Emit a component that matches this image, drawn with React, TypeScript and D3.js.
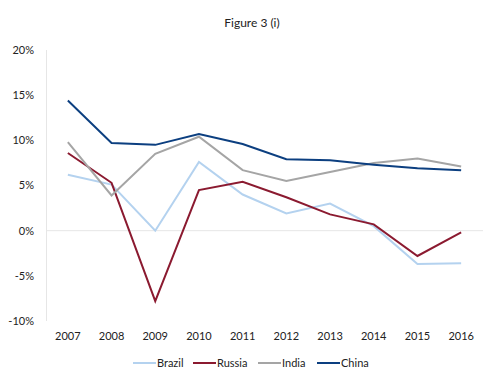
import { useEffect, useRef } from 'react';
import * as d3 from 'd3';

const years = ['2007', '2008', '2009', '2010', '2011', '2012', '2013', '2014', '2015', '2016'];
const brazil = [6.2, 5.1, 0.0, 7.6, 4.0, 1.9, 3.0, 0.5, -3.7, -3.6];
const russia = [8.6, 5.3, -7.8, 4.5, 5.4, 3.7, 1.8, 0.7, -2.8, -0.2];
const india = [9.8, 3.9, 8.5, 10.4, 6.7, 5.5, 6.5, 7.5, 8.0, 7.1];
const china = [14.4, 9.7, 9.5, 10.7, 9.6, 7.9, 7.8, 7.3, 6.9, 6.7];
const yTicks = [-10, -5, 0, 5, 10, 15, 20];

const series = [
  { name: 'Brazil', values: brazil, color: '#b4d2ef' },
  { name: 'Russia', values: russia, color: '#8b1a30' },
  { name: 'India', values: india, color: '#a5a5a5' },
  { name: 'China', values: china, color: '#0c3f80' },
];

export default function App() {
  const ref = useRef<SVGSVGElement>(null);

  useEffect(() => {
    const width = 497;
    const height = 392;
    const margin = { top: 50, right: 14, bottom: 71, left: 46 };
    const font = 'Lato, "Open Sans", sans-serif';

    const svg = d3.select(ref.current);
    svg.selectAll('*').remove();

    const x = d3
      .scaleBand()
      .domain(years)
      .range([margin.left, width - margin.right]);

    const y = d3
      .scaleLinear()
      .domain([-10, 20])
      .range([height - margin.bottom, margin.top]);

    // title
    svg
      .append('text')
      .attr('x', 252)
      .attr('y', 27)
      .attr('text-anchor', 'middle')
      .style('font-family', font)
      .style('font-size', '12px')
      .attr('fill', '#222')
      .text('Figure 3 (i)');

    // zero line
    svg
      .append('line')
      .attr('x1', margin.left)
      .attr('x2', width - margin.right)
      .attr('y1', y(0))
      .attr('y2', y(0))
      .attr('stroke', '#e6e6e6')
      .attr('stroke-width', 1);

    // y axis line
    svg
      .append('line')
      .attr('x1', margin.left + 0.5)
      .attr('x2', margin.left + 0.5)
      .attr('y1', y(20))
      .attr('y2', y(-10))
      .attr('stroke', '#e6e6e6');

    // y labels
    svg
      .append('g')
      .selectAll('text')
      .data(yTicks)
      .join('text')
      .attr('x', 34)
      .attr('y', (d) => y(d))
      .attr('dy', '0.35em')
      .attr('text-anchor', 'end')
      .style('font-family', font)
      .style('font-size', '11px')
      .attr('fill', '#222')
      .text((d) => `${d}%`);

    // x labels
    svg
      .append('g')
      .selectAll('text')
      .data(years)
      .join('text')
      .attr('x', (d) => x(d)! + x.bandwidth() / 2)
      .attr('y', y(-10) + 15)
      .attr('dy', '0.35em')
      .attr('text-anchor', 'middle')
      .style('font-family', font)
      .style('font-size', '11px')
      .attr('fill', '#222')
      .text((d) => d);

    const line = d3
      .line<number>()
      .x((_, i) => x(years[i])! + x.bandwidth() / 2)
      .y((d) => y(d));

    series.forEach((s) => {
      svg
        .append('path')
        .datum(s.values)
        .attr('d', line)
        .attr('fill', 'none')
        .attr('stroke', s.color)
        .attr('stroke-width', 2);
    });

    // legend
    const legendX = [133, 193, 258, 317];
    series.forEach((s, i) => {
      const g = svg.append('g').attr('transform', `translate(${legendX[i]},363)`);
      g.append('line')
        .attr('x1', 0)
        .attr('x2', 23)
        .attr('stroke', s.color)
        .attr('stroke-width', 2);
      g.append('text')
        .attr('x', 24)
        .attr('dy', '0.35em')
        .style('font-family', font)
        .style('font-size', '11px')
        .attr('fill', '#222')
        .text(s.name);
    });
  }, []);

  return <svg ref={ref} width={497} height={392} style={{ position: 'absolute', left: 0, top: 0 }} />;
}
